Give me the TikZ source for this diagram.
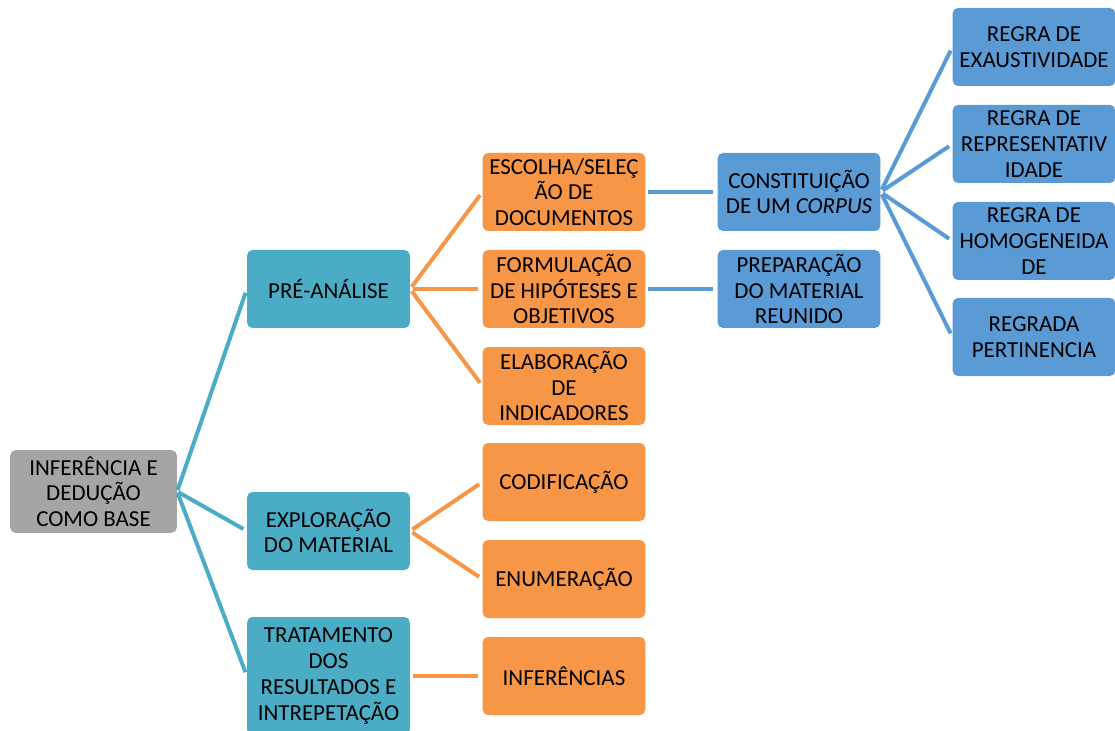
\documentclass[tikz,border=0pt]{standalone}
\usepackage{fontspec}
\setmainfont{Carlito}
\usepackage{tikz}
\usetikzlibrary{positioning}
\definecolor{rootgray}{HTML}{A5A5A5}
\definecolor{phaseteal}{HTML}{4BACC6}
\definecolor{taskorange}{HTML}{F79646}
\definecolor{ruleblue}{HTML}{5B9BD5}
\tikzset{
  box/.style={rounded corners=4pt, align=center, inner sep=1pt, text=black,
    font=\fontsize{17.2}{19.3}\selectfont, minimum width=122pt, minimum height=58.5pt},
  rootbox/.style={box, fill=rootgray, minimum width=125pt, minimum height=62pt},
  phasebox/.style={box, fill=phaseteal},
  taskbox/.style={box, fill=taskorange},
  rulebox/.style={box, fill=ruleblue},
  tealline/.style={draw=phaseteal, line width=3pt, shorten >=3pt, shorten <=1pt},
  orangeline/.style={draw=taskorange, line width=3pt, shorten >=3pt, shorten <=2pt},
  blueline/.style={draw=ruleblue, line width=3pt, shorten >=3pt, shorten <=2pt}
}

\begin{document}
\begin{tikzpicture}[x=0.75pt, y=-0.75pt]
  \useasboundingbox (0,0) rectangle (1115,731);
  \begin{scope}
  \clip (0,0) rectangle (1115,731);
  % root
  \node[rootbox] (root) at (93.5,491.5) {INFERÊNCIA E\\DEDUÇÃO\\COMO BASE};
  % phases
  \node[phasebox] (pre) at (328.5,289) {PRÉ-ANÁLISE};
  \node[phasebox] (expl) at (328.5,531) {EXPLORAÇÃO\\DO MATERIAL};
  \node[phasebox, minimum height=88.5pt] (trat) at (328.5,676)
    {TRATAMENTO\\DOS\\RESULTADOS E\\INTREPETAÇÃO};
  % tasks
  \node[taskbox] (esc) at (564,192) {ESCOLHA/SELEÇ\\ÃO DE\\DOCUMENTOS};
  \node[taskbox] (form) at (564,289) {FORMULAÇÃO\\DE HIPÓTESES E\\OBJETIVOS};
  \node[taskbox] (elab) at (564,386) {ELABORAÇÃO\\DE\\INDICADORES};
  \node[taskbox] (cod) at (564,482) {CODIFICAÇÃO};
  \node[taskbox] (enum) at (564,579) {ENUMERAÇÃO};
  \node[taskbox] (infer) at (564,676) {INFERÊNCIAS};
  % corpus and rules
  \node[rulebox] (corpus) at (799,192) {CONSTITUIÇÃO\\DE UM \textit{CORPUS}};
  \node[rulebox] (prep) at (799,289) {PREPARAÇÃO\\DO MATERIAL\\REUNIDO};
  \node[rulebox] (exaus) at (1034,47) {REGRA DE\\EXAUSTIVIDADE};
  \node[rulebox] (repr) at (1034,144) {REGRA DE\\REPRESENTATIV\\IDADE};
  \node[rulebox] (homo) at (1034,241) {REGRA DE\\HOMOGENEIDA\\DE};
  \node[rulebox] (pert) at (1034,337) {REGRADA\\PERTINENCIA};
  % links
  \foreach \n in {pre,expl,trat}
    \draw[tealline] (root.east) -- (\n.west);
  \foreach \n in {esc,form,elab}
    \draw[orangeline] (pre.east) -- (\n.west);
  \foreach \n in {cod,enum}
    \draw[orangeline] (expl.east) -- (\n.west);
  \draw[orangeline] (trat.east) -- (infer.west);
  \draw[blueline] (esc.east) -- (corpus.west);
  \draw[blueline] (form.east) -- (prep.west);
  \foreach \n in {exaus,repr,homo,pert}
    \draw[blueline] (corpus.east) -- (\n.west);
  \end{scope}
\end{tikzpicture}
\end{document}
